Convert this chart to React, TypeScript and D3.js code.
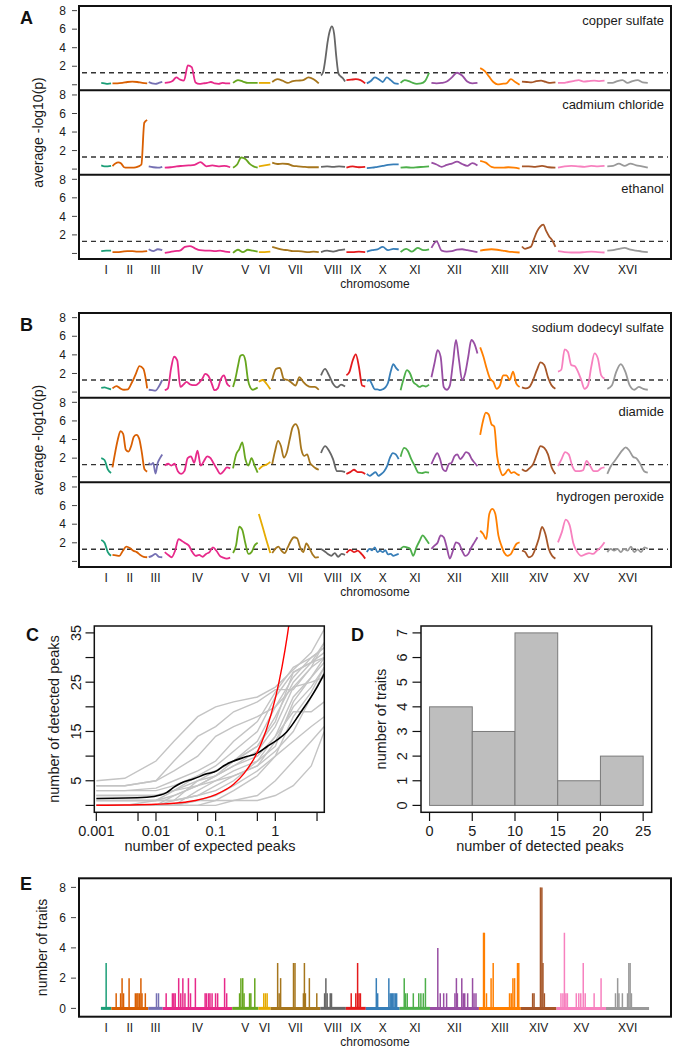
import React from 'react';
import * as d3 from 'd3';

// ---------- shared genome layout ----------
const chromosomes = ['I', 'II', 'III', 'IV', 'V', 'VI', 'VII', 'VIII', 'IX', 'X', 'XI', 'XII', 'XIII', 'XIV', 'XV', 'XVI'];
const chromLengthsKb = [230, 813, 317, 1532, 577, 270, 1091, 563, 440, 746, 667, 1078, 924, 784, 1091, 948];
const chromColors = [
  '#1b9e77', '#d95f02', '#7570b3', '#e7298a', '#66a61e', '#e6ab02', '#a6761d', '#666666',
  '#e41a1c', '#377eb8', '#4daf4a', '#984ea3', '#ff7f00', '#a65628', '#f781bf', '#999999',
];

// ---------- panel A: average -log10(p) per chromosome ----------
const traitNamesA = ['copper sulfate', 'cadmium chloride', 'ethanol'];
const copperSulfate = [
  [0.2, 0.15, 0.1, 0.15],
  [0.15, 0.15, 0.2, 0.3, 0.35, 0.3, 0.2, 0.15],
  [0.3, 0.15, 0.1, 0.2, 0.3],
  [0.2, 0.25, 0.4, 0.8, 0.55, 0.45, 2.1, 1.9, 0.25, 0.1, 0.15, 0.2, 0.3, 0.15, 0.1, 0.2, 0.15, 0.15],
  [0.2, 0.5, 0.35, 0.2, 0.2, 0.2],
  [0.2, 0.2, 0.2],
  [0.3, 0.6, 0.45, 0.2, 0.4, 0.45, 0.5, 0.8, 0.6, 0.15],
  [1.0, 1.4, 2.8, 4.6, 5.8, 6.3, 5.5, 3.0, 1.2, 0.9, 0.7, 0.35],
  [0.5, 0.55, 0.6, 0.5, 0.15],
  [0.15, 0.4, 0.8, 0.6, 0.3, 0.8, 0.5, 0.15, 0.1],
  [0.2, 0.5, 0.4, 0.2, 0.1, 0.15, 0.4, 1.3],
  [0.2, 0.15, 0.2, 0.35, 0.8, 1.3, 1.0, 0.35, 0.15, 0.2],
  [1.8, 1.5, 0.9, 0.3, 0.05, 0.1, 0.15, 0.6, 0.3, 0.0],
  [0.35, 0.3, 0.25, 0.4, 0.45, 0.3, 0.2, 0.25],
  [0.2, 0.2, 0.3, 0.4, 0.5, 0.35, 0.4, 0.45, 0.4, 0.45],
  [0.2, 0.2, 0.4, 0.5, 0.2, 0.4, 0.5, 0.25, 0.2],
];
const cadmiumChloride = [
  [0.4, 0.3, 0.3, 0.35],
  [0.33, 0.6, 0.72, 0.6, 0.2, 0.15, 0.15, 0.15, 0.2, 0.3, 0.5, 5.0, 5.3],
  [0.3, 0.2, 0.15, 0.25],
  [0.15, 0.2, 0.3, 0.35, 0.4, 0.45, 0.75, 0.3, 0.4, 0.3, 0.35, 0.2],
  [0.15, 0.5, 1.25, 1.1, 0.6, 0.3, 0.15],
  [0.3, 0.4, 0.5],
  [0.7, 0.55, 0.6, 0.55, 0.35, 0.3, 0.25, 0.2, 0.2, 0.2],
  [0.25, 0.3, 0.25, 0.3, 0.25],
  [0.15, 0.3, 0.2, 0.25],
  [0.1, 0.15, 0.25, 0.35, 0.45, 0.5, 0.5],
  [0.15, 0.2, 0.15, 0.2, 0.25, 0.3],
  [0.7, 0.5, 0.25, 0.45, 0.6, 0.8, 0.55, 0.35, 0.65, 0.4],
  [0.9, 0.7, 0.25, 0.15, 0.15, 0.2, 0.15, 0.05],
  [0.3, 0.3, 0.25, 0.35, 0.2, 0.15],
  [0.15, 0.3, 0.35, 0.3, 0.25, 0.35, 0.3, 0.35],
  [0.3, 0.35, 0.6, 0.35, 0.6, 0.4, 0.3, 0.15],
];
const ethanol = [
  [0.25, 0.3, 0.3],
  [0.15, 0.15, 0.2, 0.25, 0.25, 0.2, 0.2, 0.25],
  [0.45, 0.25, 0.45, 0.35],
  [0.05, 0.15, 0.25, 0.3, 0.7, 0.8, 0.55, 0.35, 0.3, 0.3, 0.25, 0.3, 0.2, 0.15],
  [0.05, 0.4, 0.15, 0.4, 0.3, 0.2],
  [0.15, 0.15, 0.2],
  [0.7, 0.55, 0.4, 0.35, 0.25, 0.25, 0.2, 0.15, 0.2, 0.15],
  [0.15, 0.3, 0.2, 0.35, 0.45],
  [0.15, 0.15, 0.2, 0.15],
  [0.2, 0.35, 0.45, 0.7, 0.35, 0.5, 0.45],
  [0.15, 0.5, 0.2, 0.6, 0.35, 0.45],
  [0.6, 1.3, 0.3, 0.2, 0.25, 0.4, 0.45, 0.35, 0.25, 0.15],
  [0.3, 0.4, 0.45, 0.4, 0.3, 0.2, 0.15, 0.1],
  [0.75, 0.5, 0.6, 0.75, 1.6, 2.4, 2.9, 3.1, 2.4, 1.8, 1.4, 0.7],
  [0.25, 0.15, 0.1, 0.1, 0.15, 0.2, 0.15, 0.1],
  [0.3, 0.35, 0.5, 0.6, 0.4, 0.3, 0.2, 0.15],
];

// ---------- panel B ----------
const traitNamesB = ['sodium dodecyl sulfate', 'diamide', 'hydrogen peroxide'];
const sodiumDodecylSulfate = [
  [0.45, 0.5, 0.4, 0.3],
  [0.4, 0.65, 0.4, 0.25, 0.3, 1.0, 1.9, 2.8, 2.5, 0.4],
  [0.25, 0.2, 0.15, 0.6, 1.3],
  [0.2, 0.4, 2.5, 3.8, 3.4, 0.55, 0.8, 1.1, 0.85, 0.75, 0.75, 1.0, 1.4, 1.95, 1.75, 1.0, 0.2, 0.4, 1.4, 1.8, 0.9, 0.6],
  [0.55, 1.5, 2.8, 3.9, 4.0, 3.4, 1.4, 0.5, 0.25, 0.35, 0.5],
  [1.1, 1.3, 0.9, 0.3],
  [1.3, 2.5, 2.6, 1.4, 1.3, 1.0, 0.7, 1.6, 1.1, 0.7, 0.55, 0.55, 0.25],
  [1.8, 2.5, 1.8, 0.9, 0.5, 0.8, 0.6],
  [1.8, 2.2, 3.4, 4.05, 2.7, 0.7, 0.6],
  [1.2, 1.3, 0.8, 0.3, 0.3, 0.2, 0.3, 0.5, 1.0, 2.2, 3.0, 2.6, 2.3],
  [0.2, 1.45, 2.35, 2.0, 1.1, 0.8, 0.55, 0.7, 0.6, 0.8],
  [1.6, 3.1, 4.5, 3.8, 0.55, 0.25, 0.7, 3.1, 5.6, 3.4, 1.3, 2.0, 3.8, 5.6, 5.2, 4.15],
  [4.8, 3.8, 2.5, 1.45, 1.1, 0.35, 0.7, 1.8, 1.8, 1.3, 2.2, 0.9, 0.55],
  [0.5, 0.4, 0.55, 1.3, 2.35, 3.2, 2.9, 1.6, 0.7, 0.35],
  [2.2, 2.4, 4.6, 4.3, 2.9, 2.8, 2.2, 1.3, 0.35, 0.7, 2.7, 4.15, 3.6, 1.8, 1.45],
  [0.35, 0.7, 2.2, 3.0, 2.2, 0.7, 0.25, 0.55, 0.35, 0.25],
];
const diamide = [
  [2.0, 1.8, 0.8, 0.4],
  [1.0, 2.6, 4.0, 4.9, 4.6, 2.9, 2.7, 3.3, 4.3, 4.5, 4.1, 2.6, 0.8, 0.55],
  [1.5, 1.3, 1.5, 0.35, 1.5, 2.0, 2.4],
  [1.2, 1.4, 1.2, 1.4, 0.6, 0.3, 0.6, 2.0, 2.2, 1.5, 2.8, 1.2, 1.7, 2.2, 2.0, 1.4, 0.8, 0.3, 0.6, 1.0, 0.9],
  [0.9, 2.4, 2.95, 3.7, 1.9, 1.2, 2.0, 1.2, 0.45],
  [0.8, 1.15, 1.3, 1.6],
  [1.35, 2.8, 3.85, 3.3, 2.05, 2.6, 4.0, 5.3, 5.65, 5.1, 2.95, 2.25, 2.4, 1.5, 1.15, 0.9, 0.75],
  [2.55, 3.3, 2.8, 1.9, 0.6, 0.6, 0.5],
  [0.3, 0.5, 0.75, 0.5, 0.5, 0.3],
  [0.3, 0.1, 0.3, 0.5, 0.1, 0.3, 0.6, 1.15, 2.05, 2.55, 2.4, 1.9],
  [2.15, 3.1, 2.8, 1.9, 1.15, 0.45, 0.4, 0.5, 0.45],
  [1.35, 2.05, 2.55, 1.9, 0.8, 0.6, 1.35, 1.5, 2.2, 2.4, 1.9, 2.2, 2.65, 2.5, 1.9, 1.5, 1.15],
  [4.5, 6.0, 6.9, 6.7, 5.65, 5.4, 2.25, 0.8, 0.15, 0.4, 0.8, 0.4, 0.5, 0.3, 0.15],
  [0.8, 0.6, 0.9, 1.35, 2.4, 3.3, 3.1, 2.4, 1.0, 0.3],
  [1.15, 1.9, 2.65, 2.4, 1.15, 0.6, 0.6, 0.7, 1.7, 1.15, 0.6, 0.6, 0.9, 1.0],
  [0.3, 1.15, 1.7, 2.25, 2.8, 3.15, 2.8, 2.15, 1.95, 1.35, 0.6, 0.45],
];
const hydrogenPeroxide = [
  [2.3, 2.0, 1.0, 0.6],
  [0.7, 0.65, 0.6, 1.15, 1.6, 1.45, 1.15, 1.0, 0.7, 0.5, 0.45],
  [0.45, 0.6, 0.8, 0.5, 0.45],
  [1.0, 0.7, 0.45, 1.15, 2.4, 2.2, 1.95, 1.7, 1.0, 0.6, 0.7, 0.5, 0.8, 1.0, 1.5, 1.15, 0.6, 0.4, 0.3, 0.4],
  [0.9, 1.75, 3.75, 3.4, 1.95, 0.8, 1.0, 1.7, 2.0],
  [5.1, 3.7, 2.25, 0.9],
  [0.9, 1.35, 1.6, 1.15, 0.9, 1.5, 2.2, 2.6, 2.5, 1.5, 1.0, 1.95, 1.4, 0.75, 0.4, 0.45],
  [1.35, 1.1, 0.8, 0.6, 0.9, 0.5, 0.8, 0.7],
  [0.9, 1.25, 1.0, 1.15, 0.8, 0.3],
  [1.0, 1.35, 1.2, 1.5, 1.0, 1.15, 1.0, 1.2, 0.75, 0.8, 0.6, 0.7, 0.8],
  [1.35, 1.6, 1.5, 1.35, 0.6, 1.5, 2.2, 2.8, 2.4, 1.9],
  [1.35, 1.7, 2.0, 2.8, 2.6, 1.5, 0.3, 1.15, 2.05, 1.9, 1.15, 0.6, 0.8, 1.5, 2.05, 2.6],
  [3.3, 2.95, 2.4, 5.1, 5.65, 5.1, 2.8, 1.7, 0.9, 0.6, 0.75, 1.35, 1.9, 2.05],
  [1.15, 1.0, 0.45, 0.6, 1.35, 2.4, 3.7, 2.95, 1.35, 0.6, 0.3],
  [2.05, 3.15, 4.5, 3.9, 1.9, 1.0, 0.6, 0.75, 0.9, 0.8, 1.15, 1.5, 2.05],
  [1.0, 1.35, 1.15, 1.35, 1.0, 1.35, 1.15, 1.6, 1.0, 1.3, 1.0, 1.5, 1.35],
];
const lodTicks = [0, 2, 4, 6, 8];
const significance = 1.3;

// ---------- panel C ----------
const expectedGrid = [0.001, 0.003, 0.01, 0.02, 0.05, 0.1, 0.2, 0.5, 1, 2, 4, 6.6];
const detectedPerTrait = [
  [5, 5.5, 9, 13, 18, 20, 21, 22, 24, 27.5, 31, 35.7],
  [4, 4, 5, 9, 14, 16, 19, 21, 23.5, 23.5, 28, 33],
  [3, 3, 3.5, 5, 7, 9, 13, 17, 23, 28, 30, 32],
  [2, 2, 2, 3, 5, 7, 9, 12, 18, 25, 29, 31],
  [1, 1, 1, 2, 4, 6, 8, 11, 16, 24, 28, 30],
  [0, 0, 1, 3, 6, 7, 9, 12, 17, 27, 29, 33],
  [0, 0, 0, 1, 5, 6, 8, 10, 14, 19, 19, 21],
  [0, 0, 0, 0, 3, 5, 7, 9, 12, 21, 26, 29],
  [1, 1, 1, 1, 2, 4, 6, 8, 11, 15, 22, 27],
  [0, 0, 0, 0, 1, 2, 4, 7, 10, 13, 16, 18],
  [0, 0, 0, 0, 0, 1, 1, 2, 5, 9, 13, 16],
  [0, 0, 0, 0, 0, 0, 1, 1, 2, 4, 8, 15],
  [2, 2, 2, 3, 4, 6, 9, 13, 20, 26, 30, 32],
  [3, 3, 3, 4, 6, 8, 11, 15, 22, 27, 29, 30],
  [0, 0, 0, 2, 4, 5, 6, 8, 13, 20, 24, 28],
  [1, 1, 1, 1, 2, 3, 5, 9, 14, 22, 26, 30],
  [4, 4, 5, 7, 10, 14, 16, 18, 20, 24, 25, 26],
  [0, 0, 0, 0, 1, 1, 3, 6, 10, 18, 23, 28],
];
const meanExpected = [0.001, 0.007, 0.0118, 0.015, 0.02, 0.026, 0.043, 0.071, 0.104, 0.135, 0.33, 0.5, 0.72, 1.05, 1.55, 2.6, 4.9, 6.6];
const meanDetected = [1.4, 1.65, 2.1, 2.6, 3.7, 4.5, 5.4, 6.4, 7.0, 8.0, 9.9, 10.6, 11.9, 13.2, 14.9, 18.7, 23.8, 26.7];
const nullExpected = [0.001, 0.003, 0.01, 0.03, 0.1, 0.2, 0.3, 0.5, 0.7, 1, 1.3, 1.6, 1.8];
const nullDetected = [0.02, 0.07, 0.22, 0.65, 2.2, 4.3, 6.5, 10.8, 15.2, 21.7, 28.2, 34.7, 39];
const cTicksMajor = [0.001, 0.01, 0.1, 1];
const cTicksMinor = [0.005, 0.05, 0.5, 5];
const cYTicks = [0, 5, 10, 15, 20, 25, 30, 35];
const cYLabels = [5, 15, 25, 35];

// ---------- panel D ----------
const histBreaks = [0, 5, 10, 15, 20, 25];
const histCounts = [4, 3, 7, 1, 2];
const dYTicks = [0, 1, 2, 3, 4, 5, 6, 7];

// ---------- panel E: hotspot counts (position as fraction of chromosome) ----------
const hotspotPos = [
  [0.5],
  [0.13, 0.25, 0.29, 0.33, 0.48, 0.65, 0.69, 0.72, 0.76, 0.8, 0.83, 0.92],
  [0.57, 0.71],
  [0.05, 0.14, 0.16, 0.18, 0.23, 0.26, 0.29, 0.32, 0.37, 0.4, 0.47, 0.61, 0.63, 0.66, 0.68, 0.71, 0.76, 0.79, 0.89, 0.92],
  [0.28, 0.33, 0.4, 0.45, 0.66, 0.71, 0.86],
  [0.43, 0.57, 0.71],
  [0.14, 0.17, 0.2, 0.46, 0.49, 0.66, 0.68, 0.7, 0.78, 0.93],
  [0.17, 0.22, 0.27, 0.39, 0.44],
  [0.27, 0.5, 0.59, 0.66, 0.73],
  [0.31, 0.35, 0.68, 0.72, 0.76, 0.79, 0.83, 0.87, 0.91],
  [0.15, 0.19, 0.25, 0.45, 0.63, 0.7, 0.78, 0.85],
  [0.16, 0.21, 0.28, 0.34, 0.51, 0.54, 0.56, 0.65, 0.68, 0.71, 0.77, 0.87, 0.9, 0.94],
  [0.11, 0.13, 0.18, 0.29, 0.34, 0.73, 0.77, 0.81, 0.85, 0.92, 0.95],
  [0.33, 0.37, 0.55, 0.59, 0.62, 0.66],
  [0.09, 0.13, 0.16, 0.19, 0.22, 0.4, 0.45, 0.49, 0.54, 0.58, 0.76, 0.9],
  [0.22, 0.27, 0.3, 0.38, 0.5, 0.53, 0.56, 0.59],
];
const hotspotCounts = [
  [3],
  [1, 1, 2, 1, 2, 1, 1, 1, 1, 2, 1, 1],
  [1, 1],
  [1, 1, 1, 1, 2, 1, 2, 1, 2, 1, 2, 1, 1, 1, 1, 1, 1, 1, 2, 1],
  [1, 2, 2, 1, 1, 1, 2],
  [1, 1, 1],
  [3, 1, 2, 3, 3, 1, 3, 1, 2, 1],
  [1, 2, 1, 1, 1],
  [1, 1, 3, 1, 1],
  [2, 1, 2, 1, 1, 1, 1, 1, 1],
  [2, 1, 1, 1, 1, 1, 1, 2],
  [4, 1, 1, 1, 1, 2, 1, 2, 1, 1, 1, 2, 1, 1],
  [5, 5, 1, 2, 3, 1, 1, 2, 2, 3, 3],
  [1, 1, 8, 8, 3, 1],
  [1, 1, 5, 1, 1, 1, 1, 1, 3, 1, 1, 2],
  [1, 2, 1, 1, 1, 3, 3, 1],
];
const eYTicks = [0, 2, 4, 6, 8];

// ---------- layout ----------
const FONT = '"Liberation Sans", Arial, Helvetica, sans-serif';
const TXT = '#1a1a1a';
const genomeLen = d3.sum(chromLengthsKb);
const chromStarts = chromLengthsKb.map((_, i) => d3.sum(chromLengthsKb.slice(0, i)));
const genomePad = genomeLen * 0.04;
const xGenome = d3.scaleLinear().domain([-genomePad, genomeLen + genomePad]).range([79, 671]);

function ChromLabels({ bottom }: { bottom: number }) {
  return (
    <g fontFamily={FONT} fill={TXT}>
      {chromosomes.map((c, i) => (
        <text key={c} x={xGenome(chromStarts[i] + chromLengthsKb[i] / 2)} y={bottom + 15} fontSize={12} textAnchor="middle">{c}</text>
      ))}
      <text x={375} y={bottom + 29} fontSize={12} textAnchor="middle">chromosome</text>
    </g>
  );
}

function ScanPanel({ top, bottom, letter, names, traits }: { top: number, bottom: number, letter: string, names: string[], traits: number[][][] }) {
  const h = (bottom - top) / 3;
  const line = d3.line<[number, number]>().x(d => xGenome(d[0])).y(d => d[1]).curve(d3.curveMonotoneX);
  return (
    <g>
      {traits.map((trait, k) => {
        const y = d3.scaleLinear().domain([-0.6, 8.5]).range([top + (k + 1) * h, top + k * h]);
        return (
          <g key={k}>
            {lodTicks.map(t => (
              <g key={t}>
                <line x1={72} x2={77} y1={y(t)} y2={y(t)} stroke="#444" strokeWidth={1} />
                {t > 0 && <text x={66} y={y(t)} dy="0.35em" fontSize={12} textAnchor="end" fontFamily={FONT} fill={TXT}>{t}</text>}
              </g>
            ))}
            <line x1={82} x2={668} y1={y(significance)} y2={y(significance)} stroke="#333" strokeWidth={1.4} strokeDasharray="5,4" />
            {trait.map((vals, c) => {
              const a = chromStarts[c] + chromLengthsKb[c] * 0.03;
              const span = chromLengthsKb[c] * 0.94;
              const pts = vals.map((v, i) => [a + span * i / (vals.length - 1), y(v)] as [number, number]);
              return <path key={c} d={line(pts) || ''} fill="none" stroke={chromColors[c]} strokeWidth={1.8} strokeLinejoin="round" />;
            })}
            <text x={664} y={top + k * h + 18.5} fontSize={13} textAnchor="end" fontFamily={FONT} fill={TXT}>{names[k]}</text>
          </g>
        );
      })}
      <rect x={79} y={top} width={592} height={bottom - top} fill="none" stroke="#111" strokeWidth={2} />
      <line x1={79} x2={671} y1={top + h} y2={top + h} stroke="#111" strokeWidth={2} />
      <line x1={79} x2={671} y1={top + 2 * h} y2={top + 2 * h} stroke="#111" strokeWidth={2} />
      <text transform={`translate(38,${(top + bottom) / 2}) rotate(-90)`} textAnchor="middle" dy="0.35em" fontSize={14} fontFamily={FONT} fill={TXT}>average -log10(p)</text>
      <ChromLabels bottom={bottom} />
      <text x={20} y={top + 18} fontSize={18} fontWeight="bold" fontFamily={FONT} fill="#111">{letter}</text>
    </g>
  );
}

function PanelC() {
  const x = d3.scaleLog().domain([0.000925, 6.62]).range([94.3, 324.3]);
  const y = d3.scaleLinear().domain([-1.4, 36.4]).range([812.3, 626]);
  const line = d3.line<[number, number]>().x(d => x(d[0])).y(d => y(d[1]));
  const smooth = d3.line<[number, number]>().x(d => x(d[0])).y(d => y(d[1])).curve(d3.curveMonotoneX);
  return (
    <g fontFamily={FONT} fill={TXT}>
      <defs>
        <clipPath id="clipC"><rect x={94.3} y={626} width={230} height={186.3} /></clipPath>
      </defs>
      <g clipPath="url(#clipC)">
        {detectedPerTrait.map((vals, i) => (
          <path key={i} d={line(vals.map((v, j) => [expectedGrid[j], v] as [number, number])) || ''} fill="none" stroke="#c4c4c4" strokeWidth={1.4} />
        ))}
        <path d={smooth(meanDetected.map((v, j) => [meanExpected[j], v] as [number, number])) || ''} fill="none" stroke="#000" strokeWidth={1.6} />
        <path d={smooth(nullDetected.map((v, j) => [nullExpected[j], v] as [number, number])) || ''} fill="none" stroke="#ff0000" strokeWidth={1.4} />
      </g>
      <rect x={94.3} y={626} width={230} height={186.3} fill="none" stroke="#111" strokeWidth={1.5} />
      {[...cTicksMajor, ...cTicksMinor].map(t => (
        <line key={t} x1={x(t)} x2={x(t)} y1={812.3} y2={821} stroke="#111" strokeWidth={1.2} />
      ))}
      {cTicksMajor.map(t => (
        <text key={t} x={x(t)} y={836} fontSize={14.5} textAnchor="middle">{String(t)}</text>
      ))}
      {cYTicks.map(t => (
        <line key={t} x1={85.5} x2={94.3} y1={y(t)} y2={y(t)} stroke="#111" strokeWidth={1.2} />
      ))}
      {cYLabels.map(t => (
        <text key={t} transform={`translate(76,${y(t)}) rotate(-90)`} dy="0.35em" fontSize={14.5} textAnchor="middle">{t}</text>
      ))}
      <text transform={`translate(54,${(626 + 812) / 2}) rotate(-90)`} dy="0.35em" fontSize={14.5} textAnchor="middle">number of detected peaks</text>
      <text x={210} y={851} fontSize={14.5} textAnchor="middle">number of expected peaks</text>
      <text x={26} y={641} fontSize={18} fontWeight="bold" fill="#111">C</text>
    </g>
  );
}

function PanelD() {
  const x = d3.scaleLinear().domain([-1, 26]).range([421, 651.7]);
  const y = d3.scaleLinear().domain([-0.28, 7.28]).range([812.3, 626]);
  return (
    <g fontFamily={FONT} fill={TXT}>
      {histCounts.map((n, i) => (
        <rect key={i} x={x(histBreaks[i])} y={y(n)} width={x(histBreaks[i + 1]) - x(histBreaks[i])} height={y(0) - y(n)} fill="#bebebe" stroke="#7a7a7a" strokeWidth={1} />
      ))}
      <rect x={421} y={626} width={230.7} height={186.3} fill="none" stroke="#111" strokeWidth={1.5} />
      {histBreaks.map(t => (
        <g key={t}>
          <line x1={x(t)} x2={x(t)} y1={812.3} y2={821} stroke="#111" strokeWidth={1.2} />
          <text x={x(t)} y={836} fontSize={14.5} textAnchor="middle">{t}</text>
        </g>
      ))}
      {dYTicks.map(t => (
        <g key={t}>
          <line x1={412.5} x2={421} y1={y(t)} y2={y(t)} stroke="#111" strokeWidth={1.2} />
          <text transform={`translate(402,${y(t)}) rotate(-90)`} dy="0.35em" fontSize={14.5} textAnchor="middle">{t}</text>
        </g>
      ))}
      <text transform={`translate(381,${(626 + 812) / 2}) rotate(-90)`} dy="0.35em" fontSize={14.5} textAnchor="middle">number of traits</text>
      <text x={540} y={851} fontSize={14.5} textAnchor="middle">number of detected peaks</text>
      <text x={351} y={641} fontSize={18} fontWeight="bold" fill="#111">D</text>
    </g>
  );
}

function PanelE() {
  const top = 878.3, bottom = 1016.7;
  const y = d3.scaleLinear().domain([-0.55, 8.6]).range([bottom, top]);
  return (
    <g fontFamily={FONT} fill={TXT}>
      {chromosomes.map((c, i) => (
        <g key={c}>
          {hotspotPos[i].map((p, j) => {
            const xx = xGenome(chromStarts[i] + p * chromLengthsKb[i]);
            return <line key={j} x1={xx} x2={xx} y1={y(0)} y2={y(hotspotCounts[i][j])} stroke={chromColors[i]} strokeWidth={1.5} />;
          })}
          <line x1={xGenome(chromStarts[i])} x2={xGenome(chromStarts[i] + chromLengthsKb[i])} y1={y(0)} y2={y(0)} stroke={chromColors[i]} strokeWidth={3} />
        </g>
      ))}
      <rect x={79} y={top} width={592} height={bottom - top} fill="none" stroke="#111" strokeWidth={2} />
      {eYTicks.map(t => (
        <g key={t}>
          <line x1={71} x2={76} y1={y(t)} y2={y(t)} stroke="#444" strokeWidth={1} />
          <text x={66} y={y(t)} dy="0.35em" fontSize={12} textAnchor="end">{t}</text>
        </g>
      ))}
      <text transform={`translate(42,${(top + bottom) / 2}) rotate(-90)`} dy="0.35em" fontSize={14} textAnchor="middle">number of traits</text>
      <ChromLabels bottom={bottom} />
      <text x={20} y={890} fontSize={18} fontWeight="bold" fill="#111">E</text>
    </g>
  );
}

export default function App() {
  return (
    <svg width={693} height={1050} style={{ position: 'absolute', left: 0, top: 0, background: '#fff' }}>
      <ScanPanel top={6} bottom={259} letter="A" names={traitNamesA} traits={[copperSulfate, cadmiumChloride, ethanol]} />
      <ScanPanel top={313} bottom={567} letter="B" names={traitNamesB} traits={[sodiumDodecylSulfate, diamide, hydrogenPeroxide]} />
      <PanelC />
      <PanelD />
      <PanelE />
    </svg>
  );
}
